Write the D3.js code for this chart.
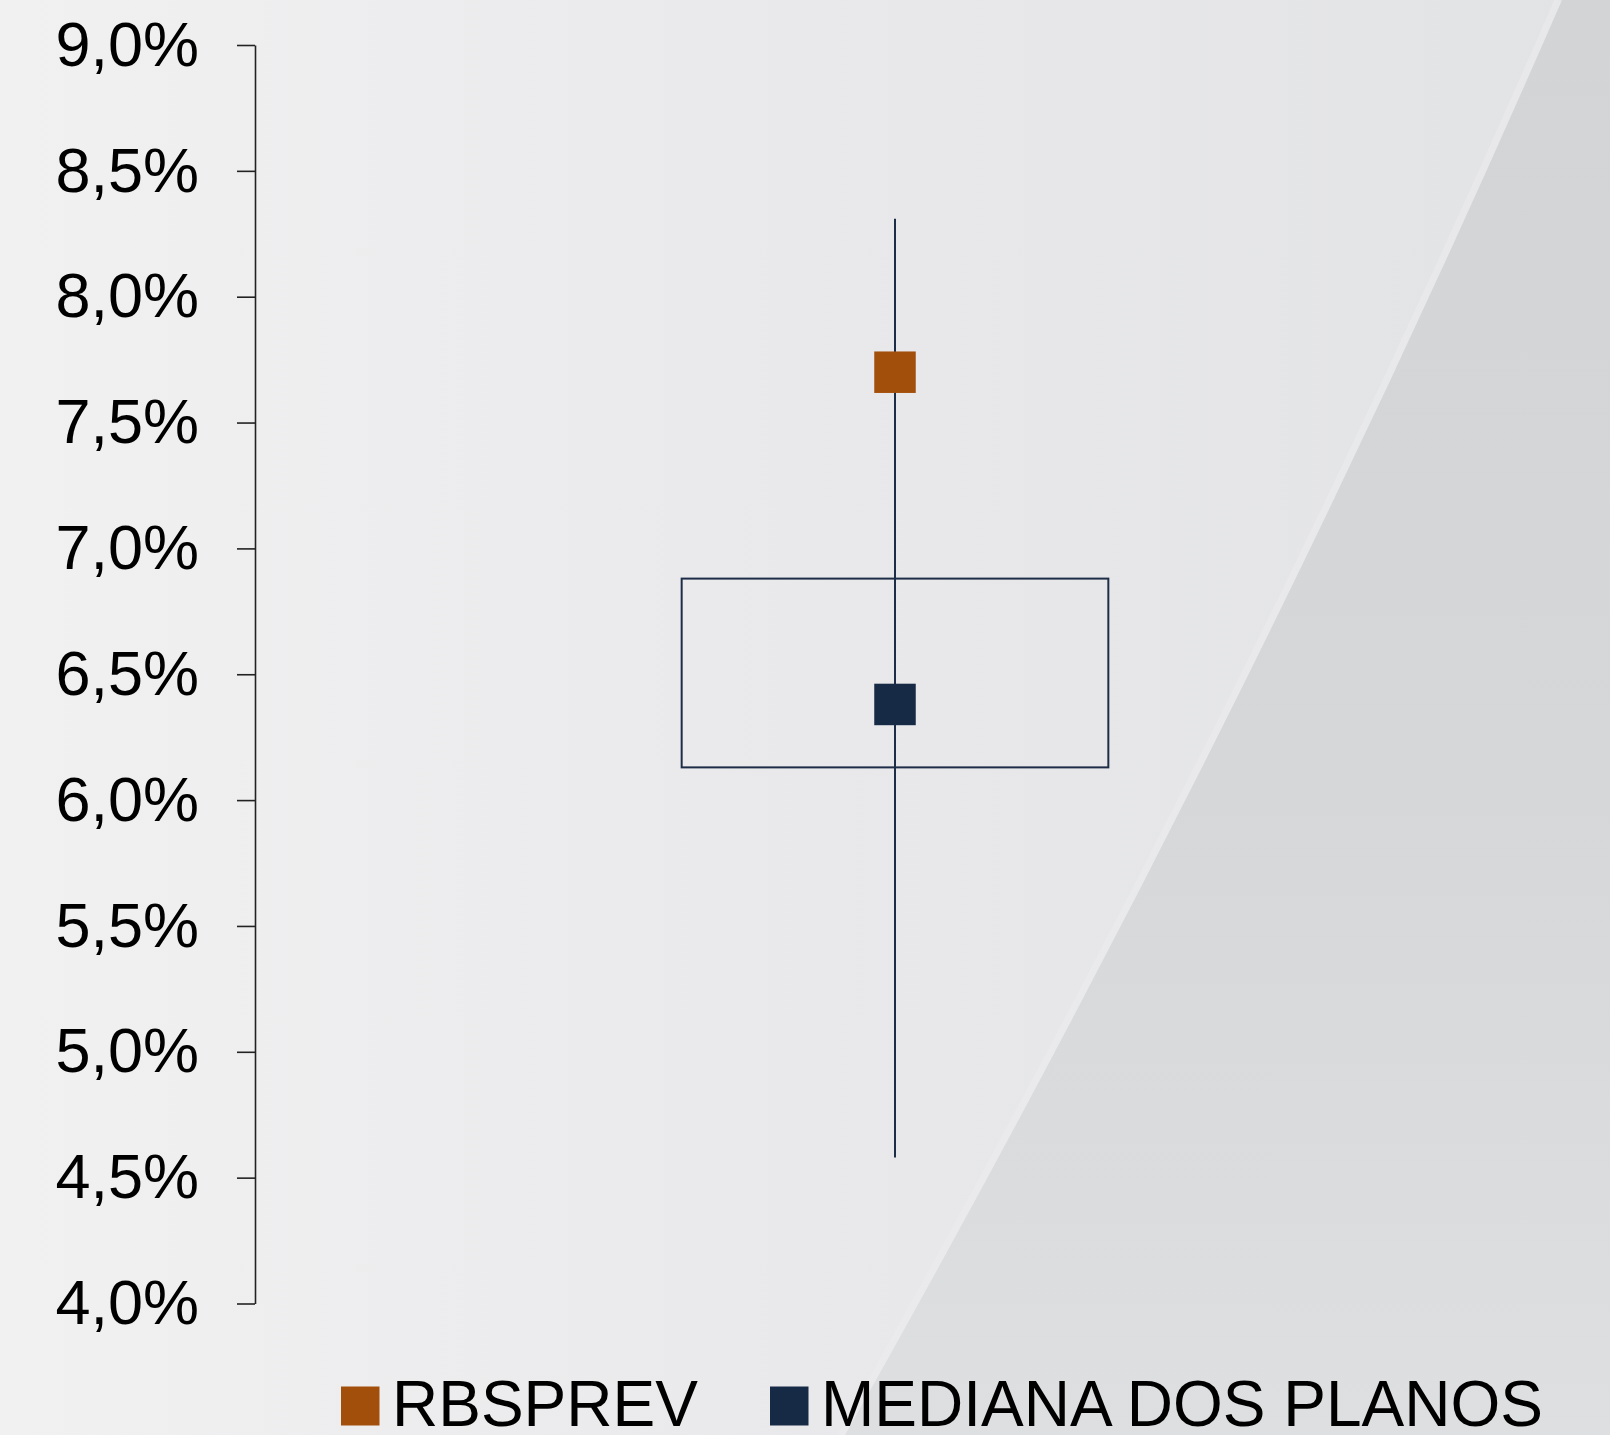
<!DOCTYPE html>
<html>
<head>
<meta charset="utf-8">
<script src="https://cdn.jsdelivr.net/npm/d3@7"></script>
<style>
  html, body { margin: 0; padding: 0; background: #eceded; }
  svg { display: block; }
</style>
</head>
<body>
<svg id="chart" width="1610" height="1435"></svg>
<script>
// Distribution of plan returns (single group) with RBSPREV highlighted
const categories = ["Planos"];
const whiskerMin = [4.58];
const whiskerMax = [8.31];
const quartile1 = [6.13];
const quartile3 = [6.88];
const medianValues = [6.38];
const rbsprevValues = [7.70];
const tickValues = [4.0, 4.5, 5.0, 5.5, 6.0, 6.5, 7.0, 7.5, 8.0, 8.5, 9.0];
const legendLabels = ["RBSPREV", "MEDIANA DOS PLANOS"];
const legendColors = ["#a34f0c", "#172a45"];

const W = 1610, H = 1435;
const svg = d3.select("#chart");

// Backdrop: soft grey gradient with a darker curved panel on the right
const defs = svg.append("defs");
const bg = defs.append("linearGradient").attr("id", "bgGrad")
  .attr("x1", "0").attr("y1", "0").attr("x2", "1").attr("y2", "0");
bg.append("stop").attr("offset", "0").attr("stop-color", "#f1f1f2");
bg.append("stop").attr("offset", "0.5").attr("stop-color", "#e9e9eb");
bg.append("stop").attr("offset", "1").attr("stop-color", "#e2e3e5");
const panel = defs.append("linearGradient").attr("id", "panelGrad")
  .attr("x1", "0").attr("y1", "0").attr("x2", "0").attr("y2", "1");
panel.append("stop").attr("offset", "0").attr("stop-color", "#d3d4d6");
panel.append("stop").attr("offset", "0.55").attr("stop-color", "#d6d7d9");
panel.append("stop").attr("offset", "1").attr("stop-color", "#dedfe1");

svg.append("rect").attr("width", W).attr("height", H).attr("fill", "url(#bgGrad)");
const edgePath = d3.path();
edgePath.moveTo(1562, 0);
edgePath.quadraticCurveTo(1250.5, 717.5, 845, 1435);
const edgeD = edgePath.toString();
svg.append("path")
  .attr("d", edgeD + `L${W},${H}L${W},0Z`)
  .attr("fill", "url(#panelGrad)");
svg.append("path")
  .attr("d", edgeD)
  .attr("transform", "translate(-4,0)")
  .attr("fill", "none").attr("stroke", "#eeeeef").attr("stroke-width", 7).attr("opacity", 0.45);

// Scales
const y = d3.scaleLinear().domain([4, 9]).range([1303.5, 45]);
const x = d3.scaleBand().domain(categories).range([255, 1535]).paddingInner(0).paddingOuter(1);

const ptBR = d3.formatLocale({ decimal: ",", thousands: ".", grouping: [3], currency: ["R$", ""] });
const fmt = ptBR.format(".1f");

// Y axis
const axis = d3.axisLeft(y).tickValues(tickValues).tickSize(18).tickSizeOuter(0)
  .tickPadding(38).tickFormat(d => fmt(d) + "%");
const gAxis = svg.append("g").attr("transform", "translate(255,0)").call(axis);
gAxis.select(".domain").attr("stroke", "#222").attr("stroke-width", 1.6);
gAxis.selectAll(".tick line").attr("stroke", "#222").attr("stroke-width", 1.6);
gAxis.selectAll(".tick text")
  .attr("fill", "#000")
  .style("font-family", "'Liberation Sans', Arial, sans-serif")
  .style("font-size", "63px");

// Box plot
const lineColor = "#1e2d47";
const plot = svg.append("g");
categories.forEach((c, i) => {
  const cx = x(c) + x.bandwidth() / 2;
  plot.append("line")
    .attr("x1", cx).attr("x2", cx)
    .attr("y1", y(whiskerMax[i])).attr("y2", y(whiskerMin[i]))
    .attr("stroke", lineColor).attr("stroke-width", 2);
  plot.append("rect")
    .attr("x", x(c)).attr("width", x.bandwidth())
    .attr("y", y(quartile3[i])).attr("height", y(quartile1[i]) - y(quartile3[i]))
    .attr("fill", "none").attr("stroke", lineColor).attr("stroke-width", 2);
  const s = 41.5;
  plot.append("rect")
    .attr("x", cx - s / 2).attr("y", y(rbsprevValues[i]) - s / 2)
    .attr("width", s).attr("height", s).attr("fill", legendColors[0]);
  plot.append("rect")
    .attr("x", cx - s / 2).attr("y", y(medianValues[i]) - s / 2)
    .attr("width", s).attr("height", s).attr("fill", legendColors[1]);
});

// Legend
const legendX = [341, 770];
const legend = svg.append("g");
legendLabels.forEach((label, i) => {
  const g = legend.append("g").attr("transform", `translate(${legendX[i]},1386.5)`);
  g.append("rect").attr("width", 38.5).attr("height", 39).attr("fill", legendColors[i]);
  g.append("text")
    .attr("x", 51).attr("y", 39)
    .attr("fill", "#000")
    .style("font-family", "'Liberation Sans', Arial, sans-serif")
    .style("font-size", "64px")
    .text(label);
});
</script>
</body>
</html>
